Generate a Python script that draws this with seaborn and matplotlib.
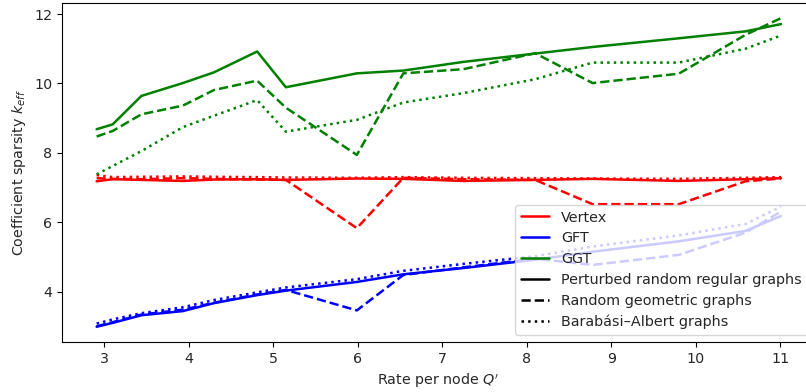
import matplotlib
matplotlib.use("Agg")
import matplotlib.pyplot as plt
from matplotlib.lines import Line2D
import seaborn as sns
import pandas as pd

# x positions (rate per node)
rates = [2.91, 3.10, 3.44, 3.93, 4.30, 4.81, 5.15, 5.99, 6.54, 7.25, 8.10, 8.78, 9.80, 10.59, 11.01]

# Vertex (red)
vertex_regular = [7.18, 7.24, 7.22, 7.19, 7.23, 7.24, 7.22, 7.26, 7.25, 7.19, 7.22, 7.25, 7.19, 7.24, 7.27]
vertex_geometric = [7.27, 7.25, 7.24, 7.27, 7.25, 7.23, 7.22, 5.83, 7.28, 7.24, 7.22, 6.52, 6.52, 7.18, 7.26]
vertex_ba = [7.36, 7.30, 7.31, 7.32, 7.31, 7.30, 7.29, 7.28, 7.30, 7.28, 7.27, 7.26, 7.25, 7.28, 7.30]

# GFT (blue)
gft_regular = [2.99, 3.10, 3.32, 3.44, 3.67, 3.90, 4.03, 4.28, 4.50, 4.68, 4.92, 5.15, 5.45, 5.75, 6.18]
gft_geometric = [3.00, 3.12, 3.34, 3.48, 3.68, 3.92, 4.05, 3.46, 4.48, 4.70, 4.95, 4.77, 5.06, 5.70, 6.31]
gft_ba = [3.08, 3.20, 3.38, 3.55, 3.76, 3.98, 4.12, 4.36, 4.60, 4.80, 5.02, 5.30, 5.62, 5.95, 6.45]

# GGT (green)
ggt_regular = [8.68, 8.82, 9.64, 10.01, 10.32, 10.92, 9.89, 10.29, 10.37, 10.62, 10.86, 11.05, 11.30, 11.50, 11.71]
ggt_geometric = [8.47, 8.63, 9.11, 9.36, 9.81, 10.08, 9.30, 7.94, 10.29, 10.41, 10.87, 10.01, 10.28, 11.40, 11.88]
ggt_ba = [7.38, 7.62, 8.05, 8.74, 9.07, 9.52, 8.61, 8.95, 9.45, 9.72, 10.12, 10.60, 10.60, 11.00, 11.38]

methods = ["Vertex", "GFT", "GGT"]
method_colors = {"Vertex": "red", "GFT": "blue", "GGT": "green"}
graph_types = ["Perturbed random regular graphs", "Random geometric graphs", "Barabási–Albert graphs"]
graph_styles = {graph_types[0]: "-", graph_types[1]: "--", graph_types[2]: ":"}

series = {
    ("Vertex", graph_types[0]): vertex_regular,
    ("Vertex", graph_types[1]): vertex_geometric,
    ("Vertex", graph_types[2]): vertex_ba,
    ("GFT", graph_types[0]): gft_regular,
    ("GFT", graph_types[1]): gft_geometric,
    ("GFT", graph_types[2]): gft_ba,
    ("GGT", graph_types[0]): ggt_regular,
    ("GGT", graph_types[1]): ggt_geometric,
    ("GGT", graph_types[2]): ggt_ba,
}

sns.set_style("ticks")
plt.rcParams["font.family"] = ["DejaVu Sans"]

fig = plt.figure(figsize=(8.06, 3.92), dpi=100)
ax = fig.add_axes([0.0769, 0.1276, 0.934, 0.865])

LW = 1.8
for m in methods:
    for g in graph_types:
        df = pd.DataFrame({"rate": rates, "k": series[(m, g)]})
        sns.lineplot(data=df, x="rate", y="k", ax=ax, color=method_colors[m],
                     linestyle=graph_styles[g], linewidth=LW, sort=False, estimator=None)

ax.set_xlim(2.50, 11.41)
ax.set_ylim(2.55, 12.32)
ax.set_xticks([3, 4, 5, 6, 7, 8, 9, 10, 11])
ax.set_yticks([4, 6, 8, 10, 12])
ax.tick_params(labelsize=10.3, length=3.5, width=0.8, color="black")
for s in ax.spines.values():
    s.set_color("black")
    s.set_linewidth(0.8)
ax.set_xlabel("Rate per node $Q'$", fontsize=10.3)
ax.set_ylabel("Coefficient sparsity $k_{eff}$", fontsize=10.3)

handles = [Line2D([0], [0], color=method_colors[m], linestyle="-", lw=LW) for m in methods]
handles += [Line2D([0], [0], color="black", linestyle=graph_styles[g], lw=LW) for g in graph_types]
labels = methods + graph_types
ax.legend(handles, labels, loc="lower right", fontsize=10.4, framealpha=0.8,
          labelspacing=0.47, borderaxespad=0.5)

fig.savefig("out.png", dpi=100)
